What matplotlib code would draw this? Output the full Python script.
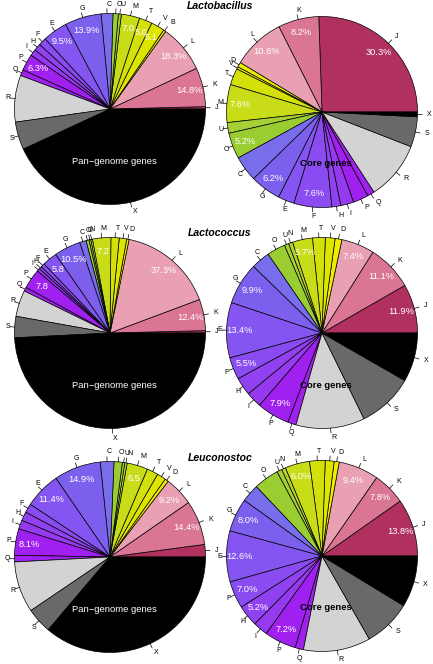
import matplotlib.pyplot as plt
import numpy as np

plt.rcParams['font.family'] = ['Liberation Sans', 'DejaVu Sans']

# COG categories in drawing order (counterclockwise from 3 o'clock)
# values = share of the whole pie (%)
# pct labels = text printed inside the slice ('' = none)

lactobacillus_pan_cats = ['J', 'K', 'L', 'B', 'V', 'T', 'M', 'U', 'O', 'C', 'G', 'E', 'F', 'H', 'I', 'P', 'Q', 'R', 'S', 'X']
lactobacillus_pan_vals = [0.4, 6.6, 8.1, 0.4, 2.3, 2.2, 3.1, 0.5, 0.9, 2.0, 6.2, 4.2, 1.3, 1.2, 1.1, 2.8, 1.0, 7.9, 4.7, 43.1]
lactobacillus_pan_pct = ['', '14.8%', '18.3%', '', '5.1', '5.0', '7.0', '', '', '', '13.9%', '9.5%', '', '', '', '6.3%', '', '', '', '']

lactobacillus_core_cats = ['J', 'K', 'L', 'D', 'V', 'T', 'M', 'U', 'O', 'C', 'G', 'E', 'F', 'H', 'I', 'P', 'Q', 'R', 'S', 'X']
lactobacillus_core_vals = [25.5, 6.9, 8.9, 0.8, 0.4, 2.8, 6.4, 1.8, 4.4, 4.3, 5.2, 2.75, 6.4, 1.5, 2.2, 2.6, 1.2, 9.9, 5.1, 0.8]
lactobacillus_core_pct = ['30.3%', '8.2%', '10.6%', '', '', '', '7.6%', '', '5.2%', '', '6.2%', '', '7.6%', '', '', '', '', '', '', '']

lactococcus_pan_cats = ['J', 'K', 'L', 'D', 'V', 'T', 'M', 'N', 'U', 'O', 'C', 'G', 'E', 'F', 'H', 'I', 'P', 'Q', 'R', 'S', 'X']
lactococcus_pan_vals = [0.4, 5.3, 16.1, 0.4, 1.25, 1.4, 3.1, 0.3, 0.3, 0.5, 1.1, 4.5, 2.5, 0.65, 0.45, 0.5, 3.35, 0.65, 4.45, 3.6, 49.2]
lactococcus_pan_pct = ['', '12.4%', '37.3%', '', '', '', '7.2', '', '', '', '', '10.5%', '5.8', '', '', '', '7.8', '', '', '', '']

lactococcus_core_cats = ['J', 'K', 'L', 'D', 'V', 'T', 'M', 'N', 'U', 'O', 'C', 'G', 'E', 'F', 'H', 'I', 'P', 'Q', 'R', 'S', 'X']
lactococcus_core_vals = [8.3, 7.75, 5.6, 1.15, 1.65, 2.15, 3.4, 0.7, 0.75, 3.1, 3.2, 7.1, 9.35, 3.75, 3.05, 2.65, 5.55, 1.4, 11.65, 9.45, 8.3]
lactococcus_core_pct = ['11.9%', '11.1%', '7.4%', '', '', '', '5.7%', '', '', '', '', '9.9%', '13.4%', '5.5%', '', '', '7.9%', '', '', '', '']

leuconostoc_pan_cats = ['J', 'K', 'L', 'D', 'V', 'T', 'M', 'N', 'U', 'O', 'C', 'G', 'E', 'F', 'H', 'I', 'P', 'Q', 'R', 'S', 'X']
leuconostoc_pan_vals = [2.1, 7.5, 4.9, 0.6, 1.5, 1.9, 3.5, 0.4, 0.4, 1.4, 2.3, 7.9, 6.1, 1.5, 1.5, 1.5, 4.45, 1.1, 8.6, 4.3, 36.0]
leuconostoc_pan_pct = ['', '14.4%', '9.2%', '', '', '', '6.5', '', '', '', '', '14.9%', '11.4%', '', '', '', '8.1%', '', '', '', '']

leuconostoc_core_cats = ['J', 'K', 'L', 'D', 'V', 'T', 'M', 'N', 'U', 'O', 'C', 'G', 'E', 'F', 'H', 'I', 'P', 'Q', 'R', 'S', 'X']
leuconostoc_core_vals = [9.75, 5.55, 6.8, 0.85, 1.5, 2.65, 4.15, 0.7, 0.85, 4.25, 3.05, 5.65, 8.6, 4.6, 3.6, 2.5, 5.4, 1.4, 11.35, 8.05, 8.7]
leuconostoc_core_pct = ['13.8%', '7.8%', '9.4%', '', '', '', '6.0%', '', '', '', '', '8.0%', '12.6%', '7.0%', '5.2%', '', '7.2%', '', '', '', '']

genera = ['Lactobacillus', 'Lactococcus', 'Leuconostoc']

cog_colors = {
    'J': '#B03060', 'K': '#DA7693', 'L': '#E9A0B2',
    'B': '#EEEE00', 'D': '#EEEE00', 'V': '#DEE600', 'T': '#D3E00A', 'M': '#C8DC18',
    'N': '#B4D42C', 'U': '#A6D036', 'O': '#9ACD32',
    'C': '#786EEC', 'G': '#7D5FEE', 'E': '#8455F0', 'F': '#8A4BF0', 'H': '#9042F0',
    'I': '#963AF0', 'P': '#A020F0', 'Q': '#A020F0',
    'R': '#D3D3D3', 'S': '#696969', 'X': '#000000',
}

H = 664  # figure height in px, pie centres below are given from the top


def draw_pie(ax, cats, vals, pcts, cx, cy, r, inner, inner_color, inner_weight):
    cy = H - cy
    wedges, texts = ax.pie(vals, labels=cats, colors=[cog_colors[c] for c in cats],
                           startangle=0, counterclock=True, center=(cx, cy), radius=r,
                           labeldistance=1.1, textprops=dict(fontsize=5),
                           wedgeprops=dict(edgecolor='black', linewidth=0.5))
    for w, p in zip(wedges, pcts):
        a = np.deg2rad((w.theta1 + w.theta2) / 2)
        ax.plot([cx + r * np.cos(a), cx + 1.05 * r * np.cos(a)],
                [cy + r * np.sin(a), cy + 1.05 * r * np.sin(a)], color='black', lw=0.5)
        if p:
            ax.text(cx + 0.86 * r * np.cos(a), cy + 0.86 * r * np.sin(a), p,
                    color='white', fontsize=6.7, ha='center', va='center')
    ax.text(cx + 4, cy - 52, inner, color=inner_color, fontsize=6.8,
            fontweight=inner_weight, ha='center', va='center')


fig = plt.figure(figsize=(4.33, 6.64), dpi=100)
ax = fig.add_axes([0, 0, 1, 1])

rows = [
    (lactobacillus_pan_cats, lactobacillus_pan_vals, lactobacillus_pan_pct,
     lactobacillus_core_cats, lactobacillus_core_vals, lactobacillus_core_pct, 109, 112, 6),
    (lactococcus_pan_cats, lactococcus_pan_vals, lactococcus_pan_pct,
     lactococcus_core_cats, lactococcus_core_vals, lactococcus_core_pct, 333, 333, 233),
    (leuconostoc_pan_cats, leuconostoc_pan_vals, leuconostoc_pan_pct,
     leuconostoc_core_cats, leuconostoc_core_vals, leuconostoc_core_pct, 557, 556, 458),
]

for name, (pc, pv, pp, cc, cv, cp, y_pan, y_core, y_title) in zip(genera, rows):
    draw_pie(ax, pc, pv, pp, 110, y_pan, 95.5, 'Pan\u2212genome genes', 'white', 'normal')
    draw_pie(ax, cc, cv, cp, 322, y_core, 95.5, 'Core genes', 'black', 'bold')
    ax.text(220, H - y_title, name, fontsize=7.5, fontweight='bold', fontstyle='italic',
            ha='center', va='center')

ax.set_xlim(0, 433)
ax.set_ylim(0, H)
ax.set_aspect('equal')
ax.axis('off')

plt.savefig('out.png', dpi=100)
